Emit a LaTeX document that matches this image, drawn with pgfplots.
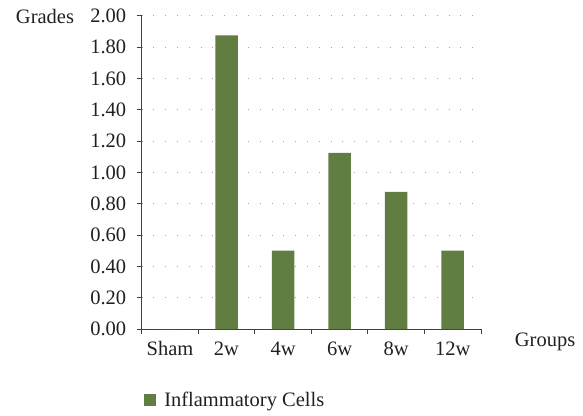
\documentclass[border=0pt]{standalone}
\usepackage{pgfplots}
\pgfplotsset{compat=1.18}
\usepackage{fontspec}
\setmainfont{Liberation Serif}
\definecolor{barg}{RGB}{98,125,66}
\definecolor{axg}{RGB}{64,64,64}
\definecolor{txt}{RGB}{35,31,32}
\begin{document}
\begin{tikzpicture}
\begin{axis}[
  scale only axis,
  width=339.3pt, height=313.3pt,
  at={(0,0)}, anchor=south west,
  xmin=-0.5, xmax=5.5,
  ymin=0, ymax=2,
  ytick={0,0.2,...,2.01},
  yticklabel style={/pgf/number format/fixed, /pgf/number format/fixed zerofill, /pgf/number format/precision=2},
  /pgf/number format/assume math mode=true,
  xtick={0,1,2,3,4,5},
  xticklabels={Sham,2w,4w,6w,8w,12w},
  minor xtick={-0.5,0.5,1.5,2.5,3.5,4.5,5.5},
  major x tick style={draw=none},
  minor tick length=5pt,
  major tick length=5pt,
  tick align=outside,
  axis x line*=bottom,
  axis y line*=left,
  axis line style={axg, line width=0.8pt},
  every tick/.style={axg, line width=0.8pt},
  ymajorgrids,
  grid style={gray!70, line width=0.8pt, dash pattern=on 0.8pt off 11pt},
  font=\fontsize{20.5}{24}\selectfont,
  tick label style={txt},
  ticklabel style={font=\fontsize{20.5}{24}\selectfont},
  xticklabel style={yshift=-4pt},
  yticklabel style={xshift=-7pt},
  ylabel={Grades},
  ylabel style={rotate=-90, at={(axis description cs:-0.285,0.996)}, anchor=center, txt},
  xlabel={Groups},
  xlabel style={at={(axis description cs:1.189,-0.040)}, anchor=center, txt},
  legend style={at={(axis description cs:0.007,-0.227)}, anchor=west, draw=none, fill=none, inner sep=0pt, font=\fontsize{20.5}{24}\selectfont, text=txt},
  legend image code/.code={\fill[barg] (0pt,-5.5pt) rectangle (11.5pt,6pt); \path (18pt,0pt);},
]
\addplot[ybar, bar width=22.5pt, fill=barg, draw=none] coordinates {
(0,0) (1,1.875) (2,0.5) (3,1.125) (4,0.875) (5,0.5)};
\addlegendentry{Inflammatory Cells}
\end{axis}
\path (-141.7pt,-86pt) rectangle (441.3pt,329pt);
\end{tikzpicture}
\end{document}
